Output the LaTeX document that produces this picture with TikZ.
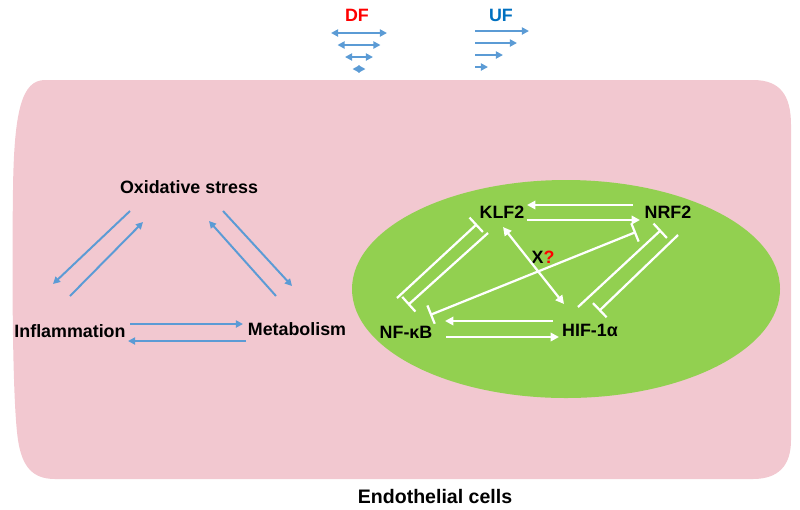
\documentclass[tikz,border=0pt]{standalone}
\usepackage{fontspec}
\setmainfont{Liberation Sans}
\usetikzlibrary{arrows.meta,calc}
\definecolor{cellPink}{RGB}{242,200,208}
\definecolor{nucGreen}{RGB}{146,208,80}
\definecolor{flowBlue}{RGB}{91,155,213}
\definecolor{dfRed}{RGB}{255,0,0}
\definecolor{ufBlue}{RGB}{0,112,192}
\tikzset{
  txt/.style={font=\fontsize{12.7}{15}\selectfont\bfseries, inner sep=0pt},
  blueArrow/.style={draw=flowBlue, line width=1.4pt, -{Triangle[length=5pt,width=5pt]}},
  blueDouble/.style={draw=flowBlue, line width=1.4pt, {Triangle[length=5pt,width=5pt]}-{Triangle[length=5pt,width=5pt]}},
  whiteArrow/.style={draw=white, line width=1.6pt, -{Triangle[length=6pt,width=6pt]}},
  whiteDouble/.style={draw=white, line width=1.6pt, {Triangle[length=6pt,width=6pt]}-{Triangle[length=6pt,width=6pt]}},
  whiteBar/.style={draw=white, line width=1.6pt, -{Bar[width=14pt]}},
  whiteBarBoth/.style={draw=white, line width=1.6pt, {Bar[width=14pt]}-{Bar[width=14pt]}}
}
\begin{document}
\begin{tikzpicture}[x=0.025cm,y=-0.025cm]
  \useasboundingbox (0,0) rectangle (800,509);
  % cell and nucleus
  \fill[cellPink] (45,80) -- (753,80) .. controls (780,80) and (791,95) .. (791,125)
    -- (791,440) .. controls (791,466) and (778,479) .. (753,479) -- (55,479)
    .. controls (32,479) and (22,466) .. (18,440) .. controls (12,400) and (12,260) .. (13,190)
    .. controls (14,110) and (22,80) .. (45,80) -- cycle;
  \fill[nucGreen] (566,289) ellipse [x radius=214, y radius=109];

  % flow labels
  \node[txt, text=dfRed] (df) at (357,15) {DF};
  \node[txt, text=ufBlue] (uf) at (501,15) {UF};
  \foreach \w/\y in {28/18, 21.5/30, 14/42, 6.5/54}
    \draw[blueDouble] ([shift={(2-\w,\y)}]df.center) -- ([shift={(2+\w,\y)}]df.center);
  \foreach \e/\y in {28/16, 16/28, 2/40, -13/52}
    \draw[blueArrow] ([shift={(-26,\y)}]uf.center) -- ([shift={(\e,\y)}]uf.center);

  % cytoplasm loop
  \node[txt] (ox) at (189,187) {Oxidative stress};
  \node[txt] (infl) at (70,331) {Inflammation};
  \node[txt] (metab) at (297,329) {Metabolism};
  \draw[blueArrow] ($(ox)+(-59,24)$) -- ($(infl)+(-17,-47)$);
  \draw[blueArrow] ($(infl)+(0,-35)$) -- ($(ox)+(-46,35)$);
  \draw[blueArrow] ($(metab)+(-21,-33)$) -- ($(ox)+(20,34)$);
  \draw[blueArrow] ($(ox)+(34,24)$) -- ($(metab)+(-5,-43)$);
  \draw[blueArrow] ($(infl)+(60,-7)$) -- ($(metab)+(-54,-5)$);
  \draw[blueArrow] ($(metab)+(-51,12)$) -- ($(infl)+(58,10)$);

  % nuclear factors
  \node[txt] (klf) at (502,212) {KLF2};
  \node[txt] (nrf) at (668,212) {NRF2};
  \node[txt] (nfkb) at (406,332) {NF-κB};
  \node[txt] (hif) at (590,330) {HIF-1α};
  \node[txt] (xq) at (543,257) {X\textcolor{dfRed}{?}};
  \draw[whiteArrow] ($(nrf)+(-35,-7)$) -- ($(klf)+(25,-7)$);
  \draw[whiteArrow] ($(klf)+(25,8)$) -- ($(nrf)+(-28,8)$);
  \draw[whiteArrow] ($(hif)+(-37,-9)$) -- ($(nfkb)+(39,-11)$);
  \draw[whiteArrow] ($(nfkb)+(40,5)$) -- ($(hif)+(-31,7)$);
  \draw[whiteDouble] ($(klf)+(1,15)$) -- ($(hif)+(-26,-26)$);
  \draw[whiteBar] ($(nfkb)+(-9,-34)$) -- ($(klf)+(-25,12)$);
  \draw[whiteBar] ($(klf)+(-14,21)$) -- ($(nfkb)+(2,-27)$);
  \draw[whiteBarBoth] ($(nfkb)+(24,-17)$) -- ($(nrf)+(-32,20)$);
  \draw[whiteBar] ($(hif)+(-12,-23)$) -- ($(nrf)+(-7,18)$);
  \draw[whiteBar] ($(nrf)+(10,23)$) -- ($(hif)+(9,-19)$);

  \node[txt, font=\fontsize{13.9}{16}\selectfont\bfseries] (cells) at (435,496) {Endothelial cells};
\end{tikzpicture}
\end{document}
